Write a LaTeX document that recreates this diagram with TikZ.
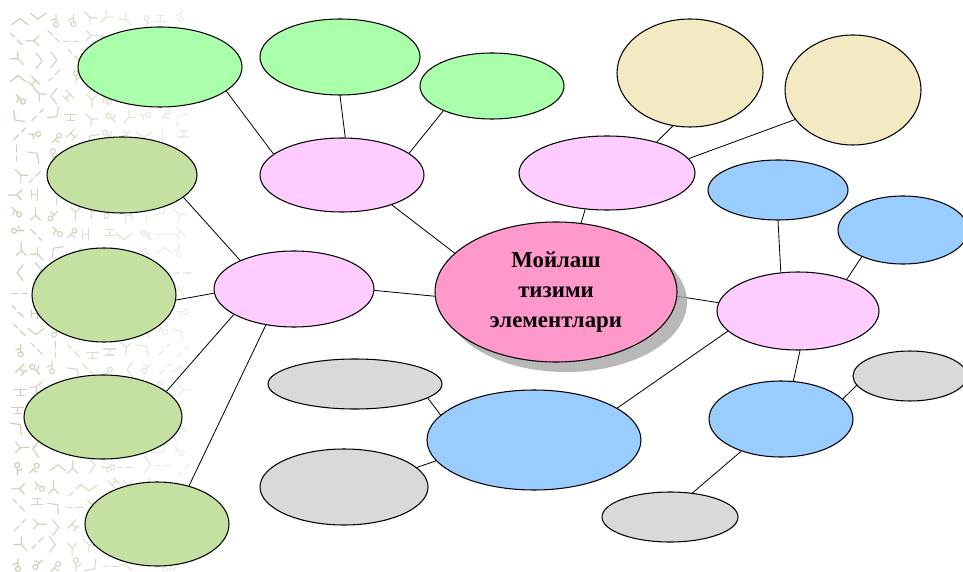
\documentclass[tikz,border=0pt]{standalone}
\usepackage{fontspec}
\setmainfont{Liberation Serif}
\usetikzlibrary{shapes.geometric,shadows}
\definecolor{lgreen}{HTML}{AAFFAA}
\definecolor{olive}{HTML}{C5E1A1}
\definecolor{beige}{HTML}{F3EAC4}
\definecolor{lpink}{HTML}{FFCCFF}
\definecolor{cpink}{HTML}{FF99CC}
\definecolor{lblue}{HTML}{99CCFF}
\definecolor{lgray}{HTML}{D9D9D9}
\definecolor{patc}{HTML}{D2CCB6}
\pgfdeclarelayer{bg}
\pgfsetlayers{bg,main}
\tikzset{
  el/.style 2 args={ellipse, draw=black, line width=0.9pt, inner sep=0pt,
     minimum width={(#1)*0.06cm}, minimum height={(#2)*0.06cm}},
  conn/.style={draw=black, line width=0.7pt},
  patline/.style={draw=patc, line width=1pt, line cap=round}
}
\begin{document}
\begin{tikzpicture}[x=0.03cm,y=-0.03cm]
\useasboundingbox (0,0) rectangle (963,572);
\clip (0,0) rectangle (963,572);
% nodes
\node[el={82}{40}, fill=lgreen] (g1) at (160,67) {};
\node[el={80}{38}, fill=lgreen] (g2) at (340,57) {};
\node[el={72}{33}, fill=lgreen] (g3) at (492,86) {};
\node[el={73}{54}, fill=beige] (b1) at (690,73) {};
\node[el={68}{55}, fill=beige] (b2) at (853,90) {};
\node[el={82}{37}, fill=lpink] (p1) at (342,175) {};
\node[el={88}{37}, fill=lpink] (p2) at (607,173) {};
\node[el={80}{38}, fill=lpink] (pl) at (294,289) {};
\node[el={81}{39}, fill=lpink] (pr) at (798,311) {};
\node[el={121}{70}, fill=cpink, drop shadow={shadow xshift=0.3cm, shadow yshift=-0.3cm, fill=black!35, opacity=0.8},
      align=center, font=\bfseries\fontsize{19.5}{25.5}\selectfont] (c) at (556,292) {Мойлаш\\тизими\\элементлари};
\node[el={70}{30}, fill=lblue] (u1) at (778,190) {};
\node[el={65}{34}, fill=lblue] (u2) at (903,230) {};
\node[el={72}{38}, fill=lblue] (u3) at (781,419) {};
\node[el={107}{50}, fill=lblue] (u4) at (534,440) {};
\node[el={57}{25}, fill=lgray] (s1) at (910,376) {};
\node[el={68}{25}, fill=lgray] (s2) at (670,517) {};
\node[el={87}{25}, fill=lgray] (s3) at (355,384) {};
\node[el={84}{38}, fill=lgray] (s4) at (344,487) {};
\node[el={75}{38}, fill=olive] (o1) at (122,175) {};
\node[el={72}{47}, fill=olive] (o2) at (104,295) {};
\node[el={79}{42}, fill=olive] (o3) at (103,417) {};
\node[el={72}{42}, fill=olive] (o4) at (157,524) {};
\begin{pgfonlayer}{bg}
% background pattern
\pgfmathsetseed{11}
\foreach \i in {0,...,9}{
  \foreach \j in {0,...,28}{
    \pgfmathsetmacro\px{16+\i*18+rnd*6}
    \pgfmathsetmacro\py{16+\j*19.5+rnd*6}
    \pgfmathsetmacro\pr{int(rnd*8)*45}
    \pgfmathsetmacro\op{1-\i*0.07}
    \pgfmathtruncatemacro\k{int(rnd*5)}
    \begin{scope}[shift={(\px,\py)}, rotate=\pr]
    \ifcase\k
      \draw[patline, opacity=\op] (0,0) -- (0,-8) (0,0) -- (-5,5) (0,0) -- (5,5);
    \or
      \draw[patline, opacity=\op] (0,-8) -- (0,-3) (0,1) -- (0,8);
    \or
      \draw[patline, opacity=\op] (0,-3) circle[radius=2.5] (0,-0.5) -- (0,7) (0,3) -- (5,1);
    \or
      \draw[patline, opacity=\op] (-3,-8) -- (3,0) -- (-3,8);
    \else
      \draw[patline, opacity=\op] (-6,0) -- (6,0) (0,0) -- (0,6) (-4,6) -- (4,6);
    \fi
    \end{scope}
  }
}
% connectors
\draw[conn] (g1.-20) -- (p1.163);
\draw[conn] (g2.-90) -- (p1.85);
\draw[conn] (g3.-153) -- (p1.18);
\draw[conn] (p1.-31) -- (c.159);
\draw[conn] (b1.-108) -- (p2.32);
\draw[conn] (b2.-153) -- (p2.10);
\draw[conn] (p2.-121) -- (c.70);
\draw[conn] (c.-2) -- (pr.174);
\draw[conn] (u1.-90) -- (pr.114);
\draw[conn] (u2.-147) -- (pr.33);
\draw[conn] (pr.-87) -- (u3.72);
\draw[conn] (u3.18) -- (s1.-170);
\draw[conn] (u3.-141) -- (s2.47);
\draw[conn] (pr.-164) -- (u4.21);
\draw[conn] (u4.165) -- (s3.-11);
\draw[conn] (u4.-168) -- (s4.15);
\draw[conn] (c.-178) -- (pl.-1);
\draw[conn] (o1.-20) -- (pl.152);
\draw[conn] (o2.-4) -- (pl.-177);
\draw[conn] (o3.22) -- (pl.-157);
\draw[conn] (o4.50) -- (pl.-128);
\end{pgfonlayer}
\end{tikzpicture}
\end{document}
